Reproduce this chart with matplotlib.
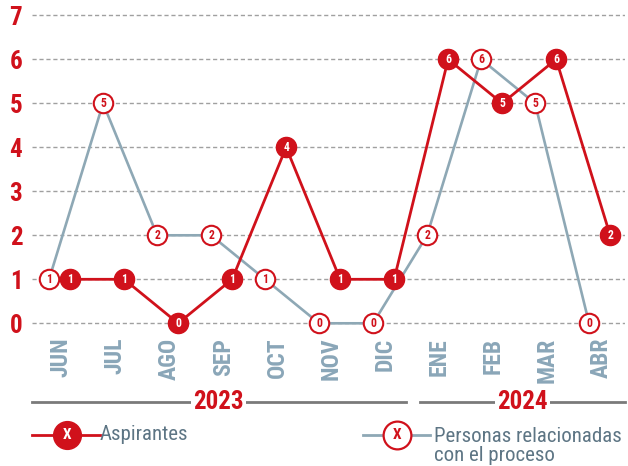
import matplotlib
matplotlib.use("Agg")
import matplotlib.pyplot as plt

# datos
meses = ['JUN', 'JUL', 'AGO', 'SEP', 'OCT', 'NOV', 'DIC', 'ENE', 'FEB', 'MAR', 'ABR']
aspirantes = [1, 1, 0, 1, 4, 1, 1, 6, 5, 6, 2]
relacionadas = [1, 5, 2, 2, 1, 0, 0, 2, 6, 5, 0]
anios = ['2023', '2024']
meses_por_anio = [7, 4]

ROJO = '#d0111b'
GRIS = '#8ea8b5'
GRIS_TXT = '#8aa6b8'
PIZARRA = '#5d7584'

plt.rcParams['font.family'] = ['Roboto Condensed', 'DejaVu Sans']

W, H = 628, 466
fig = plt.figure(figsize=(W / 100, H / 100), dpi=100)

# ejes: 0 en y=323 px, 44 px por unidad; meses cada 54 px desde 61.5 px
x0, dx = 61.5, 54.0
y0, dy = 323.3, 44.0
izq, der, arriba, abajo = 32, 625, 8, 335
ax = fig.add_axes([izq / W, 1 - abajo / H, (der - izq) / W, (abajo - arriba) / H])
ax.set_xlim((izq - x0) / dx, (der - x0) / dx)
ax.set_ylim((y0 - abajo) / dy, (y0 - arriba) / dy)

for s in ax.spines.values():
    s.set_visible(False)
ax.set_yticks(range(0, 8))
ax.yaxis.grid(True, color='#a0a0a0', linestyle=(0, (3, 2)), linewidth=1)
ax.set_axisbelow(True)
ax.tick_params(axis='y', length=0, pad=7, labelcolor=ROJO, labelsize=18)
for t in ax.get_yticklabels():
    t.set_fontweight('bold')

ax.set_xticks(range(len(meses)))
ax.set_xticklabels(meses, rotation=90, fontweight='bold', fontsize=17, color=GRIS_TXT)
ax.tick_params(axis='x', length=0, pad=2)

# desplazamiento horizontal de cada serie respecto del mes
off_rojo, off_gris = 0.16, -0.23
xs = range(len(meses))

xg = [i + off_gris for i in xs]
ax.plot(xg, relacionadas, color=GRIS, linewidth=1.9, zorder=2, clip_on=False)
ax.plot(xg, relacionadas, 'o', markersize=14, markerfacecolor='white',
        markeredgecolor=ROJO, markeredgewidth=1.5, zorder=3, clip_on=False)
for x, v in zip(xg, relacionadas):
    ax.text(x, v, str(v), color=ROJO, fontsize=8.5, fontweight='bold',
            ha='center', va='center', zorder=4)

xr = [i + off_rojo for i in xs]
ax.plot(xr, aspirantes, color=ROJO, linewidth=2, zorder=5, clip_on=False)
ax.plot(xr, aspirantes, 'o', markersize=14.5, markerfacecolor=ROJO,
        markeredgecolor=ROJO, zorder=6, clip_on=False)
for x, v in zip(xr, aspirantes):
    ax.text(x, v, str(v), color='white', fontsize=8.5, fontweight='bold',
            ha='center', va='center', zorder=7)

# capa en pixeles para anios y leyenda
ov = fig.add_axes([0, 0, 1, 1])
ov.set_xlim(0, W)
ov.set_ylim(H, 0)
ov.axis('off')
ov.patch.set_alpha(0)

y_anio = 402
inicio = 0
limites = []
for n in meses_por_anio:
    limites.append((inicio, inicio + n - 1))
    inicio += n
for k, (a, (i0, i1)) in enumerate(zip(anios, limites)):
    px0 = izq if k == 0 else x0 + (i0 - 0.5) * dx + 7
    px1 = der if k == len(anios) - 1 else x0 + (i1 + 0.5) * dx - 7
    ov.plot([px0, px1], [y_anio, y_anio], color='#7a7a7a', linewidth=2)
    ov.text((px0 + px1) / 2, y_anio, a, color=ROJO, fontsize=18, fontweight='bold',
            ha='center', va='center',
            bbox=dict(facecolor='white', edgecolor='none', pad=1.5))

# leyenda
y_ley = 435
ov.plot([32, 100], [y_ley, y_ley], color=ROJO, linewidth=2)
ov.plot([67], [y_ley], 'o', markersize=20, color=ROJO)
ov.text(67, y_ley, 'X', color='white', fontsize=11, fontweight='bold', ha='center', va='center')
ov.text(100, y_ley, 'Aspirantes', color=PIZARRA, fontsize=15, ha='left', va='center')

ov.plot([363, 430], [y_ley, y_ley], color=GRIS, linewidth=2)
ov.plot([397], [y_ley], 'o', markersize=20, markerfacecolor='white',
        markeredgecolor=ROJO, markeredgewidth=1.6)
ov.text(397, y_ley, 'X', color=ROJO, fontsize=11, fontweight='bold', ha='center', va='center')
ov.text(434, 446, 'Personas relacionadas\ncon el proceso', color=PIZARRA, fontsize=15,
        ha='left', va='center', linespacing=1.0)

fig.savefig('out.png', dpi=100)
